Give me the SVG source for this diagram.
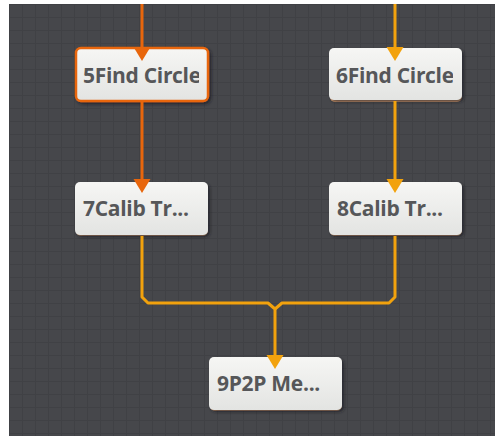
<svg xmlns="http://www.w3.org/2000/svg" width="495" height="438" viewBox="0 0 495 438">
<defs>
<pattern id="grid" x="9" y="4" width="13" height="13" patternUnits="userSpaceOnUse">
<rect width="13" height="13" fill="#46474b"/>
<path d="M0 0.5H13M0.5 0V13" stroke="#404145" stroke-width="1" fill="none"/>
</pattern>
<linearGradient id="nodefill" x1="0" y1="0" x2="0" y2="1">
<stop offset="0" stop-color="#f6f6f4"/>
<stop offset="1" stop-color="#e3e4e2"/>
</linearGradient>
<filter id="shadow" x="-10%" y="-20%" width="125%" height="150%">
<feDropShadow dx="2" dy="2" stdDeviation="1.5" flood-color="#1e1f22" flood-opacity="0.7"/>
</filter>
<clipPath id="c5"><rect x="80" y="50" width="119" height="50"/></clipPath>
<clipPath id="c6"><rect x="333" y="50" width="120" height="50"/></clipPath>
</defs>
<style>
.node rect.box{fill:url(#nodefill);filter:url(#shadow);}
.node rect.base{fill:#e2a472;}
.label{font-family:"Open Sans","DejaVu Sans",sans-serif;font-weight:bold;font-size:21px;fill:#565759;letter-spacing:-0.3px;}
.wire{fill:none;stroke-width:3;stroke-linejoin:round;}
.dark{stroke:#e8660c;}
.amber{stroke:#f2a20d;}
.ahd{fill:#e8660c;}
.ahy{fill:#f2a20d;}
</style>
<rect x="0" y="0" width="495" height="438" fill="#ffffff"/>
<rect x="9" y="4" width="486" height="432" fill="url(#grid)"/>

<g id="node5" class="node">
<rect class="box" x="76" y="48" width="132" height="53" rx="5" stroke="#e8660c" stroke-width="2.5"/>
<text class="label" x="83" y="83" clip-path="url(#c5)">5Find Circle</text>
</g>
<g id="node6" class="node">
<rect class="base" x="330" y="50" width="132" height="52" rx="5"/>
<rect class="box" x="329" y="48" width="133" height="52" rx="5"/>
<text class="label" x="336" y="83" clip-path="url(#c6)">6Find Circle</text>
</g>
<g id="node7" class="node">
<rect class="base" x="76" y="184" width="132" height="52" rx="5"/>
<rect class="box" x="75" y="182" width="133" height="53" rx="5"/>
<text class="label" x="83" y="216">7Calib Tr...</text>
</g>
<g id="node8" class="node">
<rect class="base" x="330" y="184" width="132" height="52" rx="5"/>
<rect class="box" x="329" y="182" width="133" height="53" rx="5"/>
<text class="label" x="337" y="216">8Calib Tr...</text>
</g>
<g id="node9" class="node">
<rect class="base" x="210" y="359" width="132" height="52" rx="5"/>
<rect class="box" x="209" y="357" width="133" height="53" rx="5"/>
<text class="label" x="217" y="391">9P2P Me...</text>
</g>

<g id="connectors">
<path class="wire dark" d="M142 4V48"/>
<polygon class="ahd" points="133.5,47 150.5,47 142,61"/>
<path class="wire dark" d="M142 101V180"/>
<polygon class="ahd" points="133.5,179 150.5,179 142,193"/>
<path class="wire amber" d="M395 4V48"/>
<polygon class="ahy" points="386.5,47 403.5,47 395,61"/>
<path class="wire amber" d="M395 101V180"/>
<polygon class="ahy" points="386.5,179 403.5,179 395,193"/>
<path class="wire amber" d="M142 236V297L148 303H268L275 309V356"/>
<path class="wire amber" d="M395 236V297L389 303H282L275 309"/>
<polygon class="ahy" points="266.5,355 283.5,355 275,369"/>
</g>
</svg>
